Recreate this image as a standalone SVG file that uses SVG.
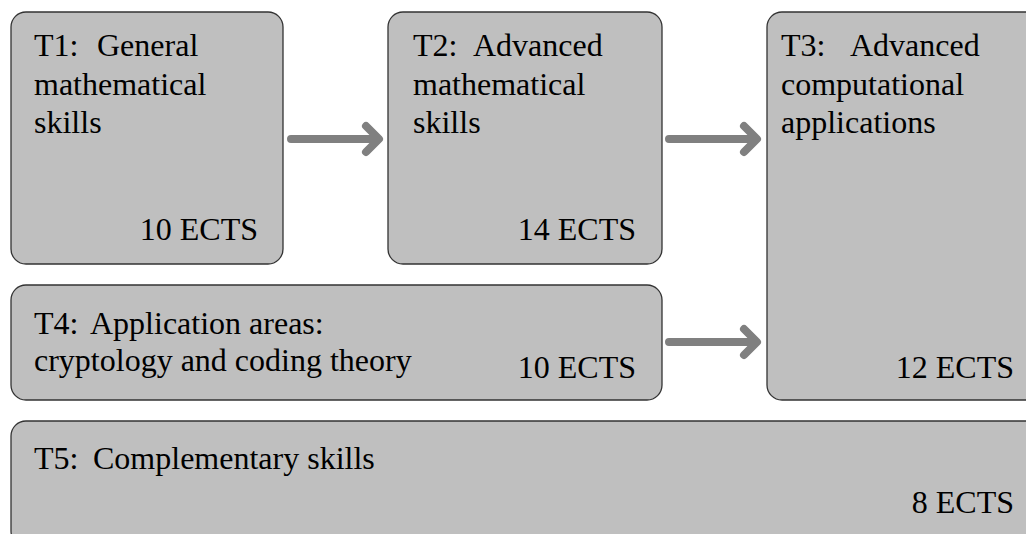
<svg xmlns="http://www.w3.org/2000/svg" width="1026" height="534" viewBox="0 0 1026 534">
<defs>
<style>
.box{fill:#bfbfbf;stroke:#333;stroke-width:1.3}
text{font-family:"Liberation Serif","Times New Roman",serif;font-size:32px;fill:#000}
.r{text-anchor:end}
.arr{stroke:#808080;stroke-width:8;fill:none;stroke-linecap:round;stroke-linejoin:round}
</style>
</defs>
<rect width="1026" height="534" fill="#fff"/>
<g id="T1">
<rect class="box" x="11" y="12" width="272" height="252" rx="15"/>
<text x="34" y="56">T1:<tspan x="97">General</tspan></text>
<text x="34" y="95">mathematical</text>
<text x="34" y="133">skills</text>
<text class="r" x="258" y="240">10 ECTS</text>
</g>
<g id="T2">
<rect class="box" x="388" y="12" width="274" height="252" rx="15"/>
<text x="413" y="56">T2:<tspan x="473">Advanced</tspan></text>
<text x="413" y="95">mathematical</text>
<text x="413" y="133">skills</text>
<text class="r" x="636" y="240">14 ECTS</text>
</g>
<g id="T3">
<rect class="box" x="767" y="12" width="280" height="388" rx="15"/>
<text x="781" y="56">T3:<tspan x="850">Advanced</tspan></text>
<text x="781" y="95">computational</text>
<text x="781" y="133">applications</text>
<text class="r" x="1014" y="378">12 ECTS</text>
</g>
<g id="T4">
<rect class="box" x="11" y="285" width="651" height="115" rx="15"/>
<text x="34" y="334">T4:<tspan x="90">Application areas:</tspan></text>
<text x="34" y="371">cryptology and coding theory</text>
<text class="r" x="636" y="378">10 ECTS</text>
</g>
<g id="T5">
<rect class="box" x="11" y="421" width="1036" height="125" rx="15"/>
<text x="34" y="469">T5:<tspan x="93">Complementary skills</tspan></text>
<text class="r" x="1014" y="513">8 ECTS</text>
</g>
<g id="connectors">
<path class="arr" d="M291 139H378M366 126L379 139L366 152"/>
<path class="arr" d="M669 139H756M744 126L757 139L744 152"/>
<path class="arr" d="M669 342H756M744 329L757 342L744 355"/>
</g>
</svg>
